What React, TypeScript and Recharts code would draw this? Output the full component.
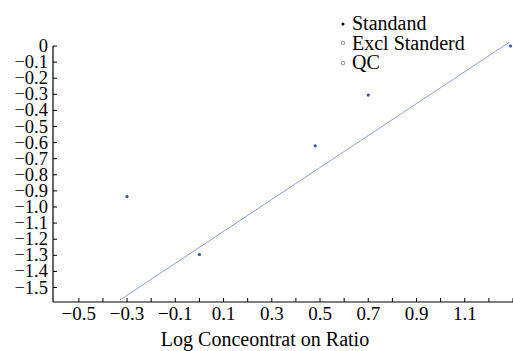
import { ScatterChart, Scatter, XAxis, YAxis, ReferenceLine } from "recharts";

const standardX = [-0.3, 0.0, 0.48, 0.7, 1.29];
const standardY = [-0.935, -1.295, -0.62, -0.305, 0.0];

const trendX = [-0.33, 1.285];
const trendY = [-1.578, 0.024];

const xTicks = [-0.5, -0.4, -0.3, -0.2, -0.1, 0, 0.1, 0.2, 0.3, 0.4, 0.5, 0.6, 0.7, 0.8, 0.9, 1.0, 1.1, 1.2, 1.3];
const xLabelTicks = [-0.5, -0.3, -0.1, 0.1, 0.3, 0.5, 0.7, 0.9, 1.1];
const yTicks = [0, -0.1, -0.2, -0.3, -0.4, -0.5, -0.6, -0.7, -0.8, -0.9, -1.0, -1.1, -1.2, -1.3, -1.4, -1.5];

const legendNames = ["Standand", "Excl Standerd", "QC"];
const xTitle = "Log Conceontrat on Ratio";

const FONT = "Liberation Serif, Times New Roman, DejaVu Serif, serif";

const standard = standardX.map((x, i) => ({ x, y: standardY[i] }));
const trend = trendX.map((x, i) => ({ x, y: trendY[i] }));

const fmt = (v: number) => (Math.abs(v) < 1e-9 ? "0" : (v < 0 ? "\u2212" : "") + Math.abs(v).toFixed(1));

function XTick(props: any) {
  const { x, y, payload } = props;
  const show = xLabelTicks.some((t) => Math.abs(t - payload.value) < 1e-6);
  return (
    <g>
      <line x1={x} x2={x} y1={y} y2={y - 4} stroke="#000" strokeWidth={1} />
      {show && (
        <text x={x} y={y + 18} textAnchor="middle" fontSize={19} style={{ fontFamily: FONT }} fill="#000">
          {fmt(payload.value)}
        </text>
      )}
    </g>
  );
}

function YTick(props: any) {
  const { x, y, payload } = props;
  return (
    <g>
      <line x1={x} x2={x + 4} y1={y} y2={y} stroke="#000" strokeWidth={1} />
      <text x={x - 5} y={y + 6} textAnchor="end" fontSize={18.5} style={{ fontFamily: FONT }} fill="#000">
        {fmt(payload.value)}
      </text>
    </g>
  );
}

function Dot(props: any) {
  const { cx, cy } = props;
  return <circle cx={cx} cy={cy} r={1.6} fill="#2c56ab" />;
}

export default function App() {
  return (
    <div style={{ position: "absolute", left: 0, top: 0, width: 513, height: 351, background: "#fff", fontFamily: FONT }}>
      <ScatterChart width={513} height={351} margin={{ top: 46, right: 0, bottom: 0, left: 0 }}>
        <XAxis
          type="number"
          dataKey="x"
          domain={[-0.607, 1.3]}
          ticks={xTicks}
          interval={0}
          tickSize={0}
          tickMargin={0}
          tick={<XTick />}
          axisLine={{ stroke: "#000", strokeWidth: 1.2 }}
          height={49}
          label={{ value: xTitle, position: "insideBottom", offset: 5, dx: -18, fontSize: 20, style: { fontFamily: FONT }, fill: "#000" }}
        />
        <YAxis
          type="number"
          dataKey="y"
          domain={[-1.59, 0]}
          ticks={yTicks}
          interval={0}
          tickSize={0}
          tickMargin={0}
          tick={<YTick />}
          axisLine={{ stroke: "#000", strokeWidth: 1.2 }}
          width={53}
        />
        <ReferenceLine segment={trend} stroke="#86a5e6" strokeWidth={1} ifOverflow="visible" />
        <Scatter data={standard} shape={<Dot />} isAnimationActive={false} />
      </ScatterChart>
      <div style={{ position: "absolute", left: 339, top: 14, fontSize: 20, lineHeight: "19.5px", color: "#000" }}>
        {legendNames.map((name, i) => (
          <div key={name} style={{ display: "flex", alignItems: "center", height: 19.5 }}>
            <svg width={13} height={10} style={{ flexShrink: 0 }}>
              {i === 0 ? (
                <circle cx={4} cy={5} r={1.5} fill="#000" />
              ) : (
                <circle cx={4} cy={5} r={1.8} fill="none" stroke="#777" strokeWidth={0.8} />
              )}
            </svg>
            <span>{name}</span>
          </div>
        ))}
      </div>
    </div>
  );
}
